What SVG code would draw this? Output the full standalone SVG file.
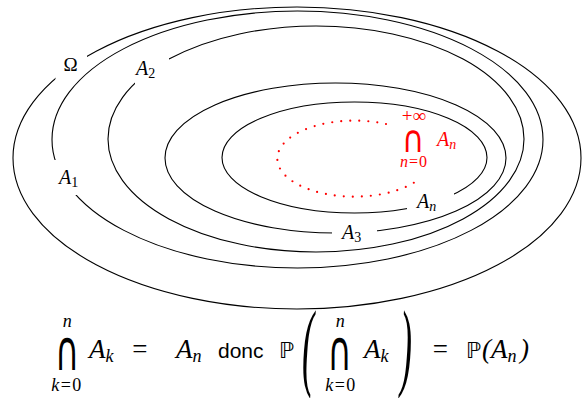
<svg xmlns="http://www.w3.org/2000/svg" width="582" height="398" viewBox="0 0 582 398">
<style>
.set{fill:none;stroke:#000;stroke-width:1.1}
.lbl{font-family:"Liberation Serif",serif;font-size:20px;font-style:italic;fill:#000}
.sub{font-size:14px}
.red{fill:#f00}
.up{font-style:normal}
.fm{font-family:"Liberation Serif",serif;font-size:27px;font-style:italic;fill:#000}
.fs{font-size:18px}
.lim{font-family:"Liberation Serif",serif;font-size:18px;font-style:italic;fill:#000;letter-spacing:1.5px}
.cap{font-family:"DejaVu Sans",sans-serif;font-style:normal}
.bb{font-family:"DejaVu Sans",sans-serif;font-size:22px;fill:#000}
.sans{font-family:"Liberation Sans",sans-serif;font-size:21px;fill:#000}
</style>
<defs>
<mask id="m0" maskUnits="userSpaceOnUse" x="0" y="0" width="582" height="398"><rect width="582" height="398" fill="#fff"/><rect x="55.5" y="45" width="31.5" height="40" fill="#000"/></mask>
<mask id="m1" maskUnits="userSpaceOnUse" x="0" y="0" width="582" height="398"><rect width="582" height="398" fill="#fff"/><rect x="40" y="160" width="50" height="35" fill="#000"/></mask>
<mask id="m2" maskUnits="userSpaceOnUse" x="0" y="0" width="582" height="398"><rect width="582" height="398" fill="#fff"/><rect x="135" y="45" width="34" height="50" fill="#000"/></mask>
<mask id="m3" maskUnits="userSpaceOnUse" x="0" y="0" width="582" height="398"><rect width="582" height="398" fill="#fff"/><rect x="332" y="220" width="45" height="25" fill="#000"/></mask>
<mask id="m4" maskUnits="userSpaceOnUse" x="0" y="0" width="582" height="398"><rect width="582" height="398" fill="#fff"/><rect x="407" y="185" width="47" height="40" fill="#000"/></mask>
</defs>
<rect width="582" height="398" fill="#fff"/>
<g id="omega">
<ellipse class="set" cx="297" cy="158" rx="284" ry="151" mask="url(#m0)"/>
<text class="lbl up" x="70.5" y="71" text-anchor="middle" style="font-size:19px">Ω</text>
</g>
<g id="A1">
<ellipse class="set" cx="297.5" cy="139.5" rx="245.5" ry="128.5" mask="url(#m1)"/>
<text class="lbl" x="59" y="184">A<tspan class="sub up" dy="3">1</tspan></text>
</g>
<g id="A2">
<ellipse class="set" cx="316" cy="139" rx="208" ry="113" mask="url(#m2)"/>
<text class="lbl" x="136" y="75">A<tspan class="sub up" dy="3">2</tspan></text>
</g>
<g id="A3">
<ellipse class="set" cx="335.5" cy="158" rx="170.5" ry="75" mask="url(#m3)"/>
<text class="lbl" x="342" y="239">A<tspan class="sub up" dy="3">3</tspan></text>
</g>
<g id="An">
<ellipse class="set" cx="354.5" cy="157.5" rx="132.5" ry="55.5" mask="url(#m4)"/>
<text class="lbl" x="417" y="208">A<tspan class="sub" dy="3">n</tspan></text>
</g>
<g id="intersection">
<path d="M386,124 A77,38 0 1,0 418,180" fill="none" stroke="#f00" stroke-width="2.2" stroke-linecap="round" stroke-dasharray="0 9"/>
<text class="lbl up red" x="414" y="122" text-anchor="middle" style="font-size:19px">+∞</text>
<text class="cap red" transform="translate(413,152) scale(1.08,1.35)" font-size="28" text-anchor="middle">∩</text>
<text class="lbl red" x="414" y="167" text-anchor="middle" style="font-size:16px;letter-spacing:1px">n<tspan class="up">=0</tspan></text>
<text class="lbl red" x="437" y="146">A<tspan class="sub" dy="3">n</tspan></text>
</g>
<g id="formula">
<text class="lim" x="68" y="327" text-anchor="middle">n</text>
<text class="cap" transform="translate(67,370) scale(1.1,1.85)" font-size="30" text-anchor="middle">∩</text>
<text class="lim" x="67" y="391" text-anchor="middle">k<tspan class="up">=0</tspan></text>
<text class="fm" x="89" y="358">A<tspan class="fs" dy="4">k</tspan></text>
<text class="fm up" x="139.5" y="358" text-anchor="middle">=</text>
<text class="fm" x="176" y="358">A<tspan class="fs" dy="4">n</tspan></text>
<text class="sans" x="218" y="358">donc</text>
<text class="bb" x="279" y="358">ℙ</text>
<text class="fm up" transform="translate(302,377.7) scale(1,2.7)" style="font-size:36px">(</text>
<text class="lim" x="341" y="327" text-anchor="middle">n</text>
<text class="cap" transform="translate(339.5,370) scale(1.1,1.85)" font-size="30" text-anchor="middle">∩</text>
<text class="lim" x="341" y="391" text-anchor="middle">k<tspan class="up">=0</tspan></text>
<text class="fm" x="364" y="358">A<tspan class="fs" dy="4">k</tspan></text>
<text class="fm up" transform="translate(400,377.7) scale(1,2.7)" style="font-size:36px">)</text>
<text class="fm up" x="440" y="358" text-anchor="middle">=</text>
<text class="bb" x="466" y="358">ℙ</text>
<text class="fm up" x="482" y="358">(</text>
<text class="fm" x="491" y="358">A<tspan class="fs" dy="4">n</tspan></text>
<text class="fm up" x="520" y="358">)</text>
</g>
</svg>
